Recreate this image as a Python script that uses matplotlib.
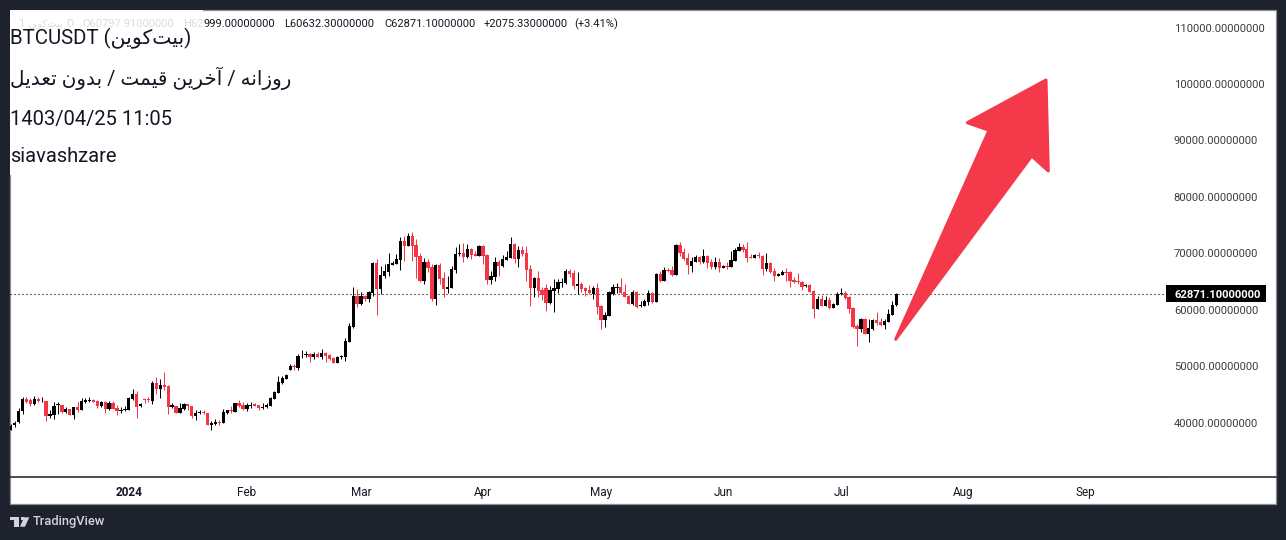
import matplotlib
matplotlib.use('Agg')
import matplotlib.pyplot as plt
from matplotlib.patches import Polygon, Rectangle
from matplotlib.lines import Line2D
import numpy as np

plt.rcParams['font.family'] = ['Roboto', 'DejaVu Sans']

# daily candles, one bar per entry
opens = [
    38720, 39490, 40020, 42000, 44220, 43925, 43216, 44220, 43748, 43866,
    41206, 41384, 43157, 43157, 41915, 42447, 41384, 42802, 42270, 43690,
    43866, 44043, 43866, 42980, 43690, 42447, 43511, 42625, 42093, 42270,
    42270, 44220, 45107, 42980, 44220, 44220, 43866, 47057, 45994, 46700,
    46525, 42802, 42980, 41738, 42447, 43334, 42980, 41206, 41738, 41915,
    41738, 39610, 39788, 40142, 39965, 41738, 42270, 41915, 43511, 43157,
    42447,
    42900, 43333, 43156, 42624, 42683, 42979, 44220, 45284, 47057, 47766,
    49362, 50072, 49717, 51904, 51904, 52199, 51667, 52199, 51667, 52376,
    52022, 51490, 50604, 51667, 51667, 54327, 56986, 62483, 61005, 62483,
    61951, 63015, 68334, 63724, 66029, 66738, 67979, 68156, 68866, 72234,
    71348, 73121, 71525, 69575, 65142, 68511, 67624, 61951, 67979, 65674,
    63724, 63901, 67092, 69929, 70107, 69397,
    70815, 69929, 69574, 71347, 69751, 65319, 65851, 68510, 67801, 68865,
    69220, 71702, 69042, 70638, 70106, 67269, 63901, 65674, 63546, 63901,
    61241, 63369, 63724, 64787, 64787, 66915, 66560, 64255, 64610, 63901,
    63546, 62837, 63901, 60709, 58227, 58936, 62837, 63901, 64078, 63191,
    62482, 61064, 63191, 60709, 60709, 61418, 63014, 61418, 66383, 65142,
    67092, 67092, 66205, 71525, 70283, 69220,
    67801, 68510, 69397, 68510, 69574, 68510, 67624, 68510, 67446, 67801,
    67624, 68688, 70461, 71170, 70815, 69397, 69220, 69751, 69574, 67269,
    68333, 66915, 66028, 66205, 66737, 66737, 65319, 65142, 64964, 64255,
    64432, 63369, 60178, 61950, 60709, 61773, 60355, 60886, 62837, 62955,
    62305, 60355, 57163, 56631, 58404, 55745, 56631, 58227, 57872, 57340,
    57872, 59113, 60797.91,
]
highs = [
    39700, 40300, 42625, 44575, 44457, 44340, 44693, 44575, 44457, 43900,
    42270, 43690, 43570, 43200, 42802, 42500, 42850, 43690, 44398, 44398,
    44575, 44100, 44043, 43866, 43750, 43748, 43866, 43157, 42802, 42980,
    44450, 45994, 45640, 43452, 44398, 44575, 47412, 48121, 47766, 49007,
    46700, 43511, 43000, 43511, 43511, 43350, 43000, 42270, 42152, 42152,
    41780, 40320, 40674, 40497, 42447, 42300, 42980, 43550, 44043, 43690,
    43511,
    43688, 43510, 43200, 43510, 43392, 44574, 45638, 48298, 48298, 48600,
    50426, 50426, 52199, 52908, 52731, 52250, 52554, 52554, 53086, 52554,
    52199, 51667, 51845, 52022, 55036, 57696, 64078, 63724, 63192, 62550,
    63369, 68511, 69043, 67802, 68156, 70107, 68688, 69929, 72943, 73121,
    73653, 73830, 72589, 70107, 69220, 69043, 68156, 68156, 68334, 66738,
    66029, 67802, 71170, 71702, 71880, 71702,
    70993, 70461, 71525, 71400, 69800, 66915, 69397, 68865, 69751, 70461,
    72943, 71879, 71347, 71347, 71347, 67978, 65851, 66915, 64078, 64610,
    64255, 65496, 65496, 65674, 67269, 67269, 67092, 66737, 64964, 64078,
    64432, 64255, 64787, 60886, 59645, 63369, 64610, 64787, 65674, 64610,
    62530, 63546, 63369, 61596, 61950, 63546, 63191, 66560, 66915, 67624,
    67446, 67801, 71600, 72056, 70993, 70106,
    69397, 69751, 69574, 70815, 69751, 69042, 69397, 69220, 67978, 68510,
    70461, 70993, 71879, 71702, 72056, 69929, 69929, 70283, 69620, 70106,
    68510, 67446, 66560, 67092, 67446, 66790, 65851, 66560, 65142, 64610,
    64610, 63546, 62482, 62660, 62482, 62305, 61241, 63191, 63901, 63369,
    62350, 60532, 57517, 58582, 58582, 58404, 58404, 59645, 58582, 58404,
    60178, 61596, 62999,
]
lows = [
    38650, 39300, 39990, 41561, 43511, 42980, 43100, 43700, 43690, 40320,
    40852, 40674, 41561, 41738, 41738, 41300, 40674, 41915, 42200, 43452,
    43570, 43570, 42625, 42802, 41738, 42270, 42400, 41384, 41738, 42093,
    42200, 44043, 40852, 42802, 43511, 43630, 43334, 45107, 44398, 45816,
    41561, 42625, 41700, 41700, 42270, 42270, 40852, 40497, 41561, 41561,
    39560, 38724, 39610, 39610, 39900, 41561, 41738, 41880, 42802, 42270,
    42093,
    42624, 42980, 42270, 42447, 42600, 42979, 44150, 45200, 46879, 47700,
    49300, 49362, 49362, 51490, 51667, 50781, 51313, 51600, 51313, 50781,
    51135, 50550, 50550, 51313, 50958, 54250, 56809, 60532, 60887, 61596,
    61419, 62483, 59114, 62837, 65674, 66029, 67950, 68100, 67092, 68688,
    71300, 68688, 65674, 64965, 64610, 66738, 61596, 60887, 64610, 62305,
    63015, 63850, 66561, 69575, 68511, 69220,
    69042, 69500, 69500, 68156, 64610, 64610, 65142, 66028, 67624, 68800,
    69150, 68333, 67624, 69574, 65142, 60709, 62305, 62305, 61773, 59823,
    61064, 59645, 63014, 64078, 64610, 65851, 63724, 62837, 63191, 62482,
    62837, 61950, 59291, 56631, 56986, 58900, 62660, 63014, 62837, 62250,
    61020, 60886, 60355, 60532, 60650, 60886, 61241, 61370, 64964, 65100,
    66737, 66028, 66150, 69574, 68865, 66383,
    66737, 68460, 68156, 68333, 67446, 67269, 67269, 66737, 67400, 67269,
    67580, 68640, 70420, 70283, 68510, 69180, 69180, 69220, 66205, 66915,
    66560, 65142, 65980, 66160, 65142, 64078, 64787, 64610, 63546, 64078,
    63150, 58582, 60130, 60660, 60660, 60178, 60310, 60840, 62660, 61950,
    59468, 56809, 53617, 56099, 55700, 54326, 56454, 57340, 57163, 56631,
    57830, 59070, 60632.3,
]
closes = [
    39470, 40000, 42000, 44220, 43630, 43216, 44220, 43748, 43866, 41206,
    41561, 42980, 43334, 41915, 42447, 41384, 42802, 42270, 43866, 44043,
    44043, 43690, 42980, 43690, 42447, 43511, 42447, 42093, 42270, 42447,
    44398, 45107, 42802, 43216, 44043, 44043, 47057, 45994, 46700, 46348,
    42802, 43157, 41738, 42625, 43334, 42980, 41206, 41738, 41915, 41738,
    39610, 39965, 40142, 39965, 41915, 42270, 42093, 43511, 42980, 42447,
    43157,
    43150, 42980, 42565, 42800, 43156, 44397, 45461, 47234, 47943, 48475,
    50072, 49835, 51845, 52022, 52199, 51667, 52199, 51667, 52376, 51845,
    51313, 50604, 51667, 51845, 54504, 57164, 62483, 61065, 62483, 61951,
    63192, 68334, 63724, 66206, 66915, 68156, 68334, 69043, 72234, 71348,
    73121, 71348, 69397, 65142, 68511, 67447, 61951, 67979, 65497, 63724,
    64078, 67270, 69929, 70107, 69397, 70816,
    69751, 69574, 71347, 69574, 65319, 66028, 68510, 67801, 69042, 69397,
    71702, 69042, 70638, 69929, 67092, 63901, 65674, 63369, 62660, 61241,
    63546, 63901, 64964, 64964, 66915, 66383, 64255, 64610, 63724, 63369,
    63014, 63901, 60532, 58227, 59113, 63191, 64078, 64078, 63014, 62305,
    61064, 63191, 60532, 60827, 61596, 63014, 61418, 66383, 65142, 67092,
    66915, 66205, 71525, 70106, 69042, 67978,
    68688, 69397, 68510, 69574, 68333, 67624, 68510, 67446, 67801, 67624,
    68865, 70638, 71170, 70638, 69220, 69220, 69751, 69574, 67269, 68333,
    66737, 66028, 66383, 66737, 66560, 65142, 64964, 64964, 64078, 64432,
    63191, 60178, 61950, 60709, 61773, 60355, 61064, 62837, 62955, 62128,
    60178, 56986, 56631, 58404, 55745, 56809, 58227, 57695, 57340, 58050,
    59291, 60886, 62871.1,
]

y_ticks = [40000, 50000, 60000, 70000, 80000, 90000, 100000, 110000]
x_tick_bars = [30, 60, 89, 120, 150, 181, 211, 242, 273]
x_tick_labels = ['2024', 'Feb', 'Mar', 'Apr', 'May', 'Jun', 'Jul', 'Aug', 'Sep']
last_price = 62871.10

# presentation forms in visual order, matplotlib does no arabic shaping
name_fa = '\uFEE6\uFBFE\uFEEE\uFB90\uFE96\uFBFF\uFE91'
line_fa = ('\uFEDE\uFBFE\uFEAA\uFECC\uFE97 \uFEE5\uFEED\uFEAA\uFE91 / '
           '\uFE96\uFEE4\uFBFF\uFED7 \uFEE6\uFBFE\uFEAE\uFEA7\uFE81 / '
           '\uFEEA\uFEE7\uFE8D\uFEAF\uFEED\uFEAD')

UP = '#000000'
DOWN = '#f23645'
BG = '#1e222d'
W, H = 1286, 540


def fx(x):
    return x / W


def fy(y):
    return 1 - y / H


fig = plt.figure(figsize=(W / 100, H / 100), dpi=100, facecolor=BG)

# white panel with the thin grey frame
fig.add_artist(Rectangle((fx(10), fy(504)), fx(1266), 494 / H, transform=fig.transFigure,
                         facecolor='white', edgecolor='#8b8e97', linewidth=0.9, zorder=-2))
fig.add_artist(Rectangle((fx(8), fy(175)), fx(195), 168 / H, transform=fig.transFigure,
                         facecolor='white', edgecolor='none', zorder=-1))
fig.add_artist(Rectangle((fx(0), fy(175)), fx(10), 175 / H, transform=fig.transFigure,
                         facecolor=BG, edgecolor='none', zorder=-1))
fig.add_artist(Rectangle((fx(0), fy(10)), fx(203), 10 / H, transform=fig.transFigure,
                         facecolor=BG, edgecolor='none', zorder=-1))

ax = fig.add_axes([fx(10), fy(477), 1156 / W, 467 / H])
ax.patch.set_alpha(0)

bars = np.arange(len(closes))
o = np.array(opens)
c = np.array(closes)
colors = [UP if a >= b else DOWN for a, b in zip(closes, opens)]

ax.axhline(last_price, color='black', linewidth=0.8, linestyle=(0, (1, 2.6)), zorder=1)
ax.vlines(bars, lows, highs, colors=colors, linewidth=0.72, zorder=2)
ax.bar(bars, np.abs(c - o), bottom=np.minimum(o, c), width=0.84, color=colors, linewidth=0, zorder=3)

ax.set_xlim(-0.18, 293.5)
ax.set_ylim(30361, 113120)

ax.yaxis.tick_right()
ax.set_yticks(y_ticks, ['%.8f' % v for v in y_ticks])
ax.set_xticks(x_tick_bars, x_tick_labels)
ax.tick_params(axis='y', length=0, pad=5.6, labelsize=8.15, labelcolor='#3a3d45')
ax.tick_params(axis='x', length=0, pad=6.2, labelsize=8.5, labelcolor='#131722')
ax.get_xticklabels()[0].set_fontweight('bold')

for side in ['top', 'left', 'right']:
    ax.spines[side].set_visible(False)
ax.spines['bottom'].set_color('#2a2e39')
ax.spines['bottom'].set_linewidth(1.2)
fig.add_artist(Line2D([fx(1167), fx(1276)], [fy(477), fy(477)], color='#2a2e39', linewidth=1.2,
                      transform=fig.transFigure))

# last price tag on the scale
tag = Rectangle((1.0, last_price - 1470), 100 / 1156, 2940, transform=ax.get_yaxis_transform(),
                facecolor='black', edgecolor='none', clip_on=False, zorder=6)
ax.add_patch(tag)
ax.text(1.0 + 8 / 1156, last_price, '%.8f' % last_price, transform=ax.get_yaxis_transform(),
        color='white', fontsize=8.15, fontweight='bold', ha='left', va='center_baseline', zorder=7,
        clip_on=False)

# arrow drawing on top of the chart
arrow_px = [(895.7, 339.3), (989, 130.3), (967.3, 122.7), (1046, 80), (1048.3, 171), (1031.7, 156)]
fig.add_artist(Polygon([(fx(x), fy(y)) for x, y in arrow_px], closed=True, transform=fig.transFigure,
                       facecolor='#f4394b', edgecolor='#f4394b', linewidth=2.2, joinstyle='round', zorder=5))

# OHLC legend row, the start is faded by the white note box
faded = '#dcdcdc'
fig.text(fx(18), fy(24), '1', color=faded, fontsize=8, va='center')
fig.text(fx(27), fy(24), name_fa, color=faded, fontsize=7.2, va='center')
fig.text(fx(66), fy(24), 'D', color=faded, fontsize=8, va='center')
fig.text(fx(82), fy(24), 'O60797.91000000', color=faded, fontsize=8, va='center')
fig.text(fx(183), fy(24), 'H62', color=faded, fontsize=8, va='center')
legend_x = [204, 284, 384, 484, 574]
legend_txt = ['999.00000000', 'L60632.30000000', 'C62871.10000000', '+2075.33000000', '(+3.41%)']
for x, s in zip(legend_x, legend_txt):
    fig.text(fx(x), fy(24), s, color='#131722', fontsize=8, va='center')

# note text in the corner
note_y = [38, 78, 120, 157]
note_txt = ['BTCUSDT (' + name_fa + ')', line_fa, '1403/04/25 11:05', 'siavashzare']
note_size = [14.7, 14.4, 14.5, 14.5]
for y, s, size in zip(note_y, note_txt, note_size):
    fig.text(fx(10), fy(y), s, color='#131722', fontsize=size, va='center')

# footer logo and name
logo = '#d1d4dc'
fig.add_artist(Polygon([(fx(x), fy(y)) for x, y in [(10, 517.3), (19.3, 517.3), (19.3, 526.7), (14.3, 526.7),
                                                     (14.3, 520), (10, 520)]],
                       transform=fig.transFigure, facecolor=logo, edgecolor='none'))
fig.add_artist(Polygon([(fx(x), fy(y)) for x, y in [(24, 517.3), (29.3, 517.3), (25, 526.7), (20, 526.7)]],
                       transform=fig.transFigure, facecolor=logo, edgecolor='none'))
fig.add_artist(Rectangle((fx(20.5), fy(520)), fx(3), 2.7 / H, transform=fig.transFigure,
                         facecolor=logo, edgecolor='none'))
fig.text(fx(33), fy(522), 'TradingView', color=logo, fontsize=9.3, fontweight='medium', va='center')

fig.savefig('out.png', dpi=100, facecolor=BG)
